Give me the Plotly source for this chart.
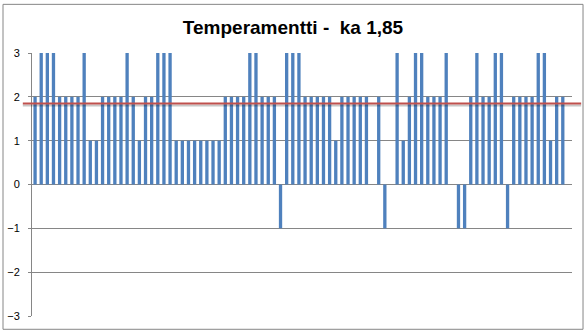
import plotly.graph_objects as go

# Values (87 answers, last category slot empty)
values_1 = [2, 3, 3, 3, 2, 2, 2, 2, 3, 1, 1, 2, 2, 2, 2, 3, 2, 1, 2, 2, 3, 3]
values_2 = [3, 1, 1, 1, 1, 1, 1, 1, 1, 2, 2, 2, 2, 3, 3, 2, 2, 2, -1, 3, 3, 3]
values_3 = [2, 2, 2, 2, 2, 1, 2, 2, 2, 2, 2, 0, 2, -1, 0, 3, 1, 2, 3, 3, 2, 2, 2]
values_4 = [3, 0, -1, -1, 2, 3, 2, 2, 3, 3, -1, 2, 2, 2, 2, 3, 3, 1, 2, 2]
values = values_1 + values_2 + values_3 + values_4
categories = list(range(1, len(values) + 2))  # one empty slot at the end
bar_values = values + [None]

mean_value = round(sum(values) / len(values), 2)  # 1.85
title_text = "Temperamentti -  ka 1,85"
y_ticks = [-3, -2, -1, 0, 1, 2, 3]

GRID = "#868686"

fig = go.Figure()
fig.add_trace(go.Bar(
    x=categories, y=bar_values,
    marker=dict(color="#4F81BD", line=dict(width=0)),
    showlegend=False, hoverinfo="y",
))

fig.update_layout(
    width=586, height=334,
    margin=dict(l=32, r=14, t=53, b=18, autoexpand=False),
    paper_bgcolor="white", plot_bgcolor="white",
    bargap=0.46,
    title=dict(
        text=title_text, x=0.5, xanchor="center", xref="container",
        y=1 - 27 / 334, yanchor="middle", yref="container",
        font=dict(family="Liberation Sans", size=19, color="black", weight="bold"),
    ),
    xaxis=dict(
        type="category", showticklabels=False, showgrid=False, zeroline=False,
        showline=False, ticks="", range=[-0.5, len(categories) - 0.5],
        automargin=False,
    ),
    yaxis=dict(
        range=[-3, 3], tickvals=y_ticks, showgrid=True, gridcolor=GRID, gridwidth=1,
        zeroline=True, zerolinecolor=GRID, zerolinewidth=1,
        showline=True, linecolor=GRID, linewidth=1,
        ticks="outside", ticklen=3, tickcolor=GRID,
        ticklabelstandoff=6, automargin=False,
        tickfont=dict(family="Liberation Sans", size=11, color="black"),
    ),
    shapes=[
        # chart-area border
        dict(type="rect", xref="paper", yref="paper",
             x0=-0.0537, x1=1.0204, y0=-0.0505, y1=1.185,
             line=dict(color=GRID, width=1), fillcolor="rgba(0,0,0,0)", layer="below"),
        # shadow of the average line
        dict(type="line", xref="paper", yref="y", ysizemode="pixel", yanchor=mean_value,
             x0=-0.017, x1=1.017, y0=-2, y1=-2,
             line=dict(color="rgba(0,0,0,0.22)", width=2), layer="above"),
        # average line
        dict(type="line", xref="paper", yref="y",
             x0=-0.017, x1=1.017, y0=mean_value, y1=mean_value,
             line=dict(color="#C0504D", width=2), layer="above"),
    ],
)

fig.write_html("out.html")
